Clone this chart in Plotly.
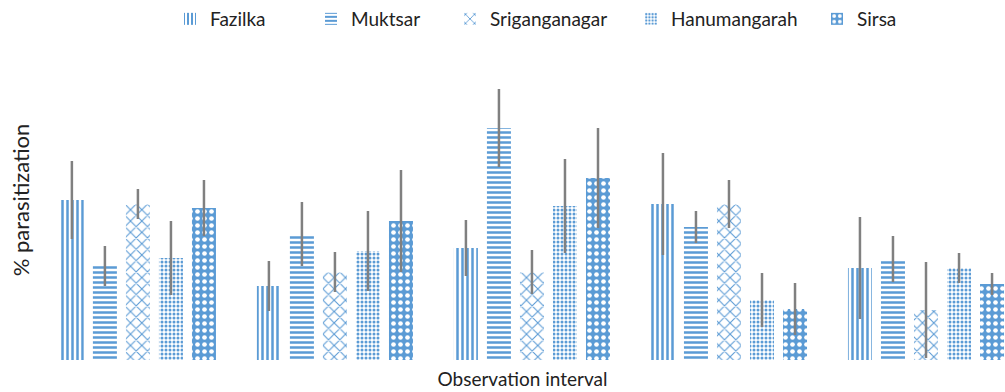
import plotly.graph_objects as go

intervals = ["I", "II", "III", "IV", "V"]
series = ["Fazilka", "Muktsar", "Sriganganagar", "Hanumangarah", "Sirsa"]

fazilka = [40, 18.5, 28, 39, 23]
muktsar = [23.5, 31.5, 58, 33.25, 25.25]
sriganganagar = [39, 22, 22, 39, 12.5]
hanumangarah = [25.5, 27.25, 38.5, 15, 23]
sirsa = [38, 34.75, 45.5, 12.75, 19]

fazilka_err = [9.75, 6.25, 7, 12.75, 12.75]
muktsar_err = [5, 8, 9.75, 4, 5.75]
sriganganagar_err = [3.75, 5, 5.5, 6, 12]
hanumangarah_err = [9.25, 10, 11.75, 6.75, 3.75]
sirsa_err = [7, 12.75, 12.5, 6.5, 2.75]

values = [fazilka, muktsar, sriganganagar, hanumangarah, sirsa]
errors = [fazilka_err, muktsar_err, sriganganagar_err, hanumangarah_err, sirsa_err]

BLUE = "#5B9BD5"
patterns = [
    dict(shape="|", fgcolor=BLUE, bgcolor="white", size=5, solidity=0.5, fgopacity=1),
    dict(shape="-", fgcolor=BLUE, bgcolor="white", size=5, solidity=0.5, fgopacity=1),
    dict(shape="x", fgcolor=BLUE, bgcolor="white", size=8, solidity=0.25, fgopacity=1),
    dict(shape=".", fgcolor=BLUE, bgcolor="white", size=4, solidity=0.45, fgopacity=1),
    dict(shape=".", fgcolor="white", bgcolor=BLUE, size=7, solidity=0.35, fgopacity=1),
]

legend_x_px = [170, 311, 450, 631, 817]
FONT = "Lato"
TXT = "#222222"

fig = go.Figure()
for i, name in enumerate(series):
    fig.add_trace(go.Bar(
        x=intervals, y=values[i], name=name,
        marker=dict(color=BLUE, pattern=patterns[i], line=dict(width=0)),
        error_y=dict(type="data", array=errors[i], visible=True,
                     color="#808080", thickness=2.5, width=0),
        legend=f"legend{i+2}",
    ))

legend_common = dict(
    orientation="h", xref="container", yref="container",
    xanchor="left", yanchor="middle", y=1 - 19 / 392,
    font=dict(family=FONT, size=19, color=TXT),
    bgcolor="rgba(0,0,0,0)", itemwidth=30,
)
legends = {}
for i in range(5):
    legends[f"legend{i+2}"] = dict(legend_common, x=legend_x_px[i] / 1005)

fig.update_layout(
    width=1005, height=392,
    margin=dict(l=40, r=0, t=40, b=32),
    paper_bgcolor="white", plot_bgcolor="white",
    barmode="group", bargap=0.162, bargroupgap=0.273,
    font=dict(family=FONT, color=TXT),
    showlegend=True,
    xaxis=dict(range=[-0.497, 4.401], showticklabels=False, showgrid=False,
               zeroline=False, showline=False, ticks="",
               title=dict(text="Observation interval", font=dict(size=19, color=TXT),
                          standoff=12)),
    yaxis=dict(range=[0, 80], showticklabels=False, showgrid=False,
               zeroline=False, showline=False, ticks="",
               title=dict(text="% parasitization", font=dict(size=22, color=TXT),
                          standoff=3)),
    **legends,
)

fig.write_html("out.html")
